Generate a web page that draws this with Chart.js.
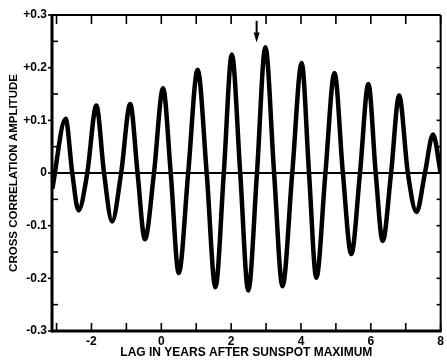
<!DOCTYPE html>
<html><head><meta charset="utf-8">
<script src="https://cdn.jsdelivr.net/npm/chart.js@4/dist/chart.umd.min.js"></script>
<style>html,body{margin:0;padding:0;background:#fff}</style>
</head><body>
<canvas id="c" width="447" height="361"></canvas>
<script>
// Data
const lagYears = [-3.12,-2.74,-2.55,-2.37,-2.12,-1.86,-1.64,-1.41,-1.15,-0.89,-0.68,-0.47,-0.21,0.05,0.27,0.50,0.77,1.04,1.30,1.55,1.79,2.02,2.26,2.49,2.74,2.98,3.23,3.47,3.75,4.02,4.23,4.44,4.70,4.96,5.20,5.44,5.69,5.93,6.14,6.34,6.58,6.81,7.06,7.31,7.55,7.78,8.00];
const amplitude = [-0.03,0.103,0,-0.071,0,0.128,0,-0.092,0,0.131,0,-0.126,0,0.161,0,-0.190,0,0.196,0,-0.217,0,0.225,0,-0.223,0,0.239,0,-0.215,0,0.209,0,-0.199,0,0.190,0,-0.154,0,0.169,0,-0.129,0,0.147,0,-0.074,0,0.073,0.0];
const xTickValues = [-2,0,2,4,6,8];
const xTickLabels = ['-2','0','2','4','6','8'];
const xMinorTicks = [-3,-2,-1,0,1,2,3,4,5,6,7,8];
const yTickValues = [-0.3,-0.2,-0.1,0,0.1,0.2,0.3];
const yTickLabels = ['-0.3','-0.2','-0.1','0','+0.1','+0.2','+0.3'];
const yMinorTicks = [-0.25,-0.15,-0.05,0.05,0.15,0.25];
const yAllTicks = [-0.25,-0.2,-0.15,-0.1,-0.05,0.05,0.1,0.15,0.2,0.25];
const arrowLag = 2.73, arrowFrom = 0.289, arrowTo = 0.248;
const xTitle = 'LAG IN YEARS AFTER SUNSPOT MAXIMUM';
const yTitle = 'CROSS CORRELATION AMPLITUDE';

const FONT = 'Liberation Sans';

const frame = {
  id: 'frame',
  beforeDatasetsDraw(chart) {
    const {ctx, chartArea: a, scales: {y}} = chart;
    ctx.save();
    ctx.strokeStyle = '#000';
    ctx.lineWidth = 1.8;
    const y0 = y.getPixelForValue(0);
    ctx.beginPath(); ctx.moveTo(a.left, y0); ctx.lineTo(a.right, y0); ctx.stroke();
    ctx.restore();
  },
  afterDatasetsDraw(chart) {
    const {ctx, chartArea: a, scales: {x, y}} = chart;
    const ln = (x1, y1, x2, y2) => { ctx.beginPath(); ctx.moveTo(x1, y1); ctx.lineTo(x2, y2); ctx.stroke(); };
    ctx.save();
    ctx.strokeStyle = '#000';
    ctx.fillStyle = '#000';
    ctx.lineCap = 'butt';
    ctx.lineWidth = 1.6;
    for (const v of xMinorTicks) {
      const px = x.getPixelForValue(v);
      ln(px, a.bottom, px, a.bottom - 8);
      ln(px, a.top, px, a.top + 9);
    }
    for (const v of yAllTicks) {
      const py = y.getPixelForValue(v);
      ln(a.right, py, a.right - 4, py);
    }
    for (const v of yMinorTicks) {
      const py = y.getPixelForValue(v);
      ln(a.left, py, a.left + 6, py);
    }
    for (const v of yTickValues) {
      const py = y.getPixelForValue(v);
      ln(a.left, py, a.left - 4, py);
    }
    // frame
    ctx.lineWidth = 2;
    ln(a.left, a.top, a.right, a.top);
    ln(a.right, a.top, a.right, a.bottom);
    ctx.lineWidth = 3;
    ln(a.left, a.top - 1, a.left, a.bottom + 1.5);
    ln(a.left, a.bottom, a.right + 1, a.bottom);
    // arrow
    const ax = x.getPixelForValue(arrowLag);
    const ay1 = y.getPixelForValue(arrowFrom);
    const ay2 = y.getPixelForValue(arrowTo);
    ctx.lineWidth = 2;
    ln(ax, ay1, ax, ay2 - 8);
    ctx.beginPath();
    ctx.moveTo(ax - 3, ay2 - 10);
    ctx.lineTo(ax + 3, ay2 - 10);
    ctx.lineTo(ax, ay2);
    ctx.closePath();
    ctx.fill();
    ctx.restore();
  }
};

new Chart(document.getElementById('c'), {
  type: 'line',
  data: {
    datasets: [{
      data: lagYears.map((v, i) => ({x: v, y: amplitude[i]})),
      borderColor: '#000',
      borderWidth: 4.5,
      pointRadius: 0,
      cubicInterpolationMode: 'monotone',
      fill: false
    }]
  },
  options: {
    responsive: false,
    animation: false,
    events: [],
    layout: {padding: {top: 15, right: 3, left: 0, bottom: 0}},
    plugins: {legend: {display: false}, tooltip: {enabled: false}},
    scales: {
      x: {
        type: 'linear', min: -3.13, max: 8,
        afterBuildTicks: s => { s.ticks = xTickValues.map(v => ({value: v})); },
        afterFit: s => { s.height = 30; },
        grid: {display: false, drawTicks: false},
        border: {display: false},
        ticks: {
          padding: 3, color: '#000', maxRotation: 0, autoSkip: false,
          font: {family: FONT, weight: 'bold', size: 12},
          callback: v => xTickLabels[xTickValues.indexOf(v)]
        },
        title: {display: true, text: xTitle, color: '#000', padding: {top: 0, bottom: 1},
          font: {family: FONT, weight: 'bold', size: 12}}
      },
      y: {
        type: 'linear', min: -0.3, max: 0.3,
        afterBuildTicks: s => { s.ticks = yTickValues.map(v => ({value: v})); },
        afterFit: s => { s.width = 52; },
        grid: {display: false, drawTicks: false},
        border: {display: false},
        ticks: {
          padding: 5, color: '#000', autoSkip: false,
          font: {family: FONT, weight: 'bold', size: 12},
          callback: v => yTickLabels[yTickValues.findIndex(t => Math.abs(t - v) < 1e-9)]
        },
        title: {display: true, text: yTitle, color: '#000', padding: {top: 7, bottom: 0},
          font: {family: FONT, weight: 'bold', size: 11.5}}
      }
    }
  },
  plugins: [frame]
});
</script>
</body></html>
